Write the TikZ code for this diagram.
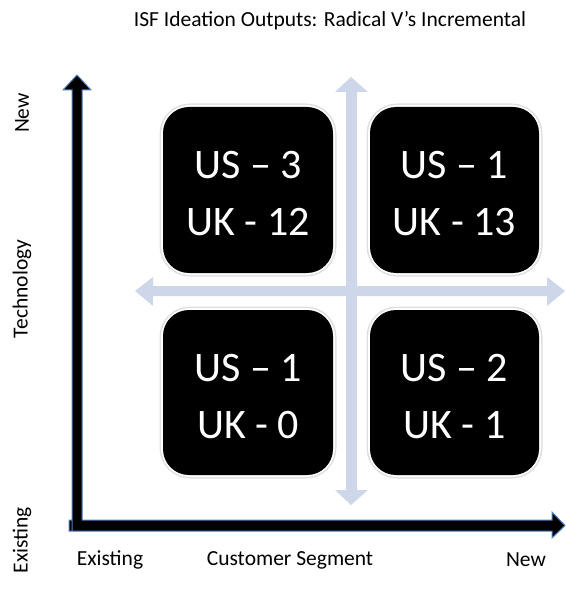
\documentclass[tikz,border=0pt]{standalone}
\usepackage{fontspec}
\setmainfont{Carlito}
\begin{document}
\begin{tikzpicture}[x=1pt,y=-1pt,
  lbl/.style={font=\fontsize{21.5}{25}\selectfont, inner sep=0pt},
  boxtxt/.style={font=\fontsize{42}{50}\selectfont, text=white, anchor=base, inner sep=0pt},
  quad/.style={rounded corners=26pt, fill=black},
  axisarrow/.style={fill=black, draw=axisblue, line width=1pt}]
\definecolor{crossblue}{RGB}{206,214,233}
\definecolor{axisblue}{RGB}{79,129,189}
\useasboundingbox (0,0) rectangle (565,593);

% title
\node[lbl] (title) at (330,21) {ISF Ideation Outputs: Radical V’s Incremental};

% light blue cross
\fill[crossblue] (346,92) -- (335,92) -- (351,77) -- (368,92) -- (357,92) -- (357,490) -- (368,490) -- (351,505) -- (335,490) -- (346,490) -- cycle;
\fill[crossblue] (153,286) -- (153,277) -- (135,291) -- (153,306) -- (153,296) -- (547,296) -- (547,306) -- (565,291) -- (547,277) -- (547,286) -- cycle;

% quadrant boxes
\foreach \x/\y/\X/\Y/\n in {163/107/333/273/tl, 370/107/539/273/tr, 163/310/333/475/bl, 370/310/539/475/br}{
  \draw[gray!25, line width=7pt, rounded corners=27pt] (\x,\y) rectangle (\X,\Y);
  \draw[white, line width=4pt, rounded corners=27pt] (\x,\y) rectangle (\X,\Y);
  \fill[quad] (\x,\y) rectangle (\X,\Y);
  \coordinate (\n) at ({(\x+\X)/2},{(\y+\Y)/2});
}
\node[boxtxt] (tl1) at ([yshift=11pt]tl) {US – 3};
\node[boxtxt] (tl2) at ([yshift=-46pt]tl) {UK - 12};
\node[boxtxt] (tr1) at ([yshift=11pt]tr) {US – 1};
\node[boxtxt] (tr2) at ([yshift=-46pt]tr) {UK - 13};
\node[boxtxt] (bl1) at ([yshift=11pt]bl) {US – 1};
\node[boxtxt] (bl2) at ([yshift=-46pt]bl) {UK - 0};
\node[boxtxt] (br1) at ([yshift=11pt]br) {US – 2};
\node[boxtxt] (br2) at ([yshift=-46pt]br) {UK - 1};

% black axes
\draw[axisarrow] (72,531) -- (72,90) -- (63,90) -- (77,75) -- (91,90) -- (82,90) -- (82,520) -- (552,520) -- (552,512) -- (565,525.5) -- (552,538) -- (552,531) -- (69,531) -- (69,520) -- (72,520);

% axis labels
\node[lbl, rotate=90] (ynew) at (22,113) {New};
\node[lbl, rotate=90] (ytech) at (22,289) {Technology};
\node[lbl, rotate=90] (yex) at (22,540) {Existing};
\node[lbl] (xex) at (110,560) {Existing};
\node[lbl] (xcs) at (290,560) {Customer Segment};
\node[lbl] (xnew) at (526,560) {New};
\end{tikzpicture}
\end{document}
